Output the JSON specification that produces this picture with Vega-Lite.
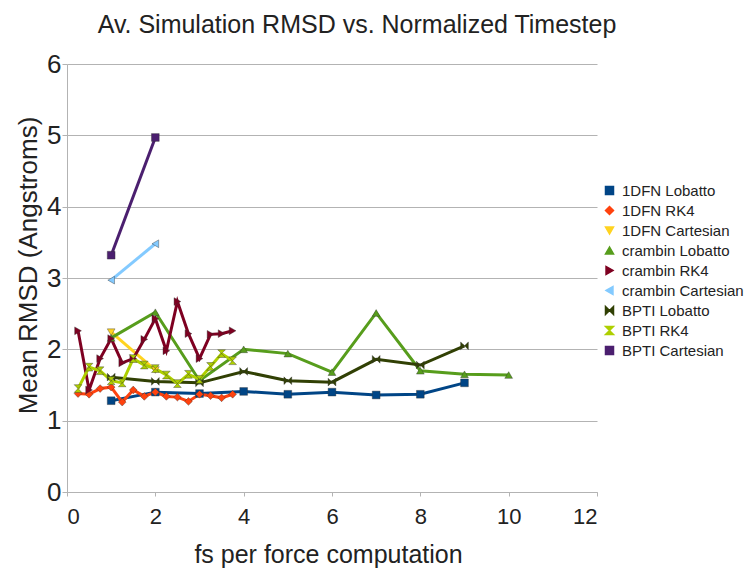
{
  "$schema": "https://vega.github.io/schema/vega-lite/v6.json",
  "width": 530,
  "height": 428,
  "autosize": "none",
  "padding": {"left": 67, "top": 64, "right": 153, "bottom": 80},
  "background": "white",
  "config": {
    "font": "Liberation Sans",
    "view": {"stroke": null}
  },
  "title": {
    "text": "Av. Simulation RMSD vs. Normalized Timestep",
    "fontSize": 25,
    "fontWeight": "normal",
    "color": "#222222",
    "anchor": "middle",
    "baseline": "alphabetic",
    "dx": 25,
    "dy": 15,
    "offset": 8
  },
  "data": {
    "values": [
      {"series": "1DFN Lobatto", "x": 1, "y": 1.28},
      {"series": "1DFN Lobatto", "x": 2, "y": 1.40},
      {"series": "1DFN Lobatto", "x": 3, "y": 1.38},
      {"series": "1DFN Lobatto", "x": 4, "y": 1.41},
      {"series": "1DFN Lobatto", "x": 5, "y": 1.37},
      {"series": "1DFN Lobatto", "x": 6, "y": 1.40},
      {"series": "1DFN Lobatto", "x": 7, "y": 1.36},
      {"series": "1DFN Lobatto", "x": 8, "y": 1.37},
      {"series": "1DFN Lobatto", "x": 9, "y": 1.53},
      {"series": "1DFN RK4", "x": 0.25, "y": 1.38},
      {"series": "1DFN RK4", "x": 0.5, "y": 1.37},
      {"series": "1DFN RK4", "x": 0.75, "y": 1.45},
      {"series": "1DFN RK4", "x": 1, "y": 1.47},
      {"series": "1DFN RK4", "x": 1.25, "y": 1.26},
      {"series": "1DFN RK4", "x": 1.5, "y": 1.43},
      {"series": "1DFN RK4", "x": 1.75, "y": 1.34},
      {"series": "1DFN RK4", "x": 2, "y": 1.40},
      {"series": "1DFN RK4", "x": 2.25, "y": 1.34},
      {"series": "1DFN RK4", "x": 2.5, "y": 1.33},
      {"series": "1DFN RK4", "x": 2.75, "y": 1.27},
      {"series": "1DFN RK4", "x": 3, "y": 1.37},
      {"series": "1DFN RK4", "x": 3.25, "y": 1.35},
      {"series": "1DFN RK4", "x": 3.5, "y": 1.32},
      {"series": "1DFN RK4", "x": 3.75, "y": 1.37},
      {"series": "1DFN Cartesian", "x": 1, "y": 2.24},
      {"series": "1DFN Cartesian", "x": 2, "y": 1.71},
      {"series": "crambin Lobatto", "x": 1, "y": 2.16},
      {"series": "crambin Lobatto", "x": 2, "y": 2.52},
      {"series": "crambin Lobatto", "x": 3, "y": 1.56},
      {"series": "crambin Lobatto", "x": 4, "y": 2.0},
      {"series": "crambin Lobatto", "x": 5, "y": 1.94},
      {"series": "crambin Lobatto", "x": 6, "y": 1.68},
      {"series": "crambin Lobatto", "x": 7, "y": 2.51},
      {"series": "crambin Lobatto", "x": 8, "y": 1.70},
      {"series": "crambin Lobatto", "x": 9, "y": 1.65},
      {"series": "crambin Lobatto", "x": 10, "y": 1.64},
      {"series": "crambin RK4", "x": 0.25, "y": 2.26},
      {"series": "crambin RK4", "x": 0.5, "y": 1.43},
      {"series": "crambin RK4", "x": 0.75, "y": 1.87},
      {"series": "crambin RK4", "x": 1, "y": 2.15},
      {"series": "crambin RK4", "x": 1.25, "y": 1.81},
      {"series": "crambin RK4", "x": 1.5, "y": 1.87},
      {"series": "crambin RK4", "x": 1.75, "y": 2.14},
      {"series": "crambin RK4", "x": 2, "y": 2.43},
      {"series": "crambin RK4", "x": 2.25, "y": 1.98},
      {"series": "crambin RK4", "x": 2.5, "y": 2.67},
      {"series": "crambin RK4", "x": 2.75, "y": 2.22},
      {"series": "crambin RK4", "x": 3, "y": 1.87},
      {"series": "crambin RK4", "x": 3.25, "y": 2.21},
      {"series": "crambin RK4", "x": 3.5, "y": 2.22},
      {"series": "crambin RK4", "x": 3.75, "y": 2.26},
      {"series": "crambin Cartesian", "x": 1, "y": 2.97},
      {"series": "crambin Cartesian", "x": 2, "y": 3.48},
      {"series": "BPTI Lobatto", "x": 1, "y": 1.61},
      {"series": "BPTI Lobatto", "x": 2, "y": 1.55},
      {"series": "BPTI Lobatto", "x": 3, "y": 1.53},
      {"series": "BPTI Lobatto", "x": 4, "y": 1.69},
      {"series": "BPTI Lobatto", "x": 5, "y": 1.56},
      {"series": "BPTI Lobatto", "x": 6, "y": 1.54},
      {"series": "BPTI Lobatto", "x": 7, "y": 1.86},
      {"series": "BPTI Lobatto", "x": 8, "y": 1.78},
      {"series": "BPTI Lobatto", "x": 9, "y": 2.05},
      {"series": "BPTI RK4", "x": 0.25, "y": 1.45},
      {"series": "BPTI RK4", "x": 0.5, "y": 1.75},
      {"series": "BPTI RK4", "x": 0.75, "y": 1.70},
      {"series": "BPTI RK4", "x": 1, "y": 1.56},
      {"series": "BPTI RK4", "x": 1.25, "y": 1.53},
      {"series": "BPTI RK4", "x": 1.5, "y": 1.87},
      {"series": "BPTI RK4", "x": 1.75, "y": 1.78},
      {"series": "BPTI RK4", "x": 2, "y": 1.73},
      {"series": "BPTI RK4", "x": 2.25, "y": 1.64},
      {"series": "BPTI RK4", "x": 2.5, "y": 1.52},
      {"series": "BPTI RK4", "x": 2.75, "y": 1.65},
      {"series": "BPTI RK4", "x": 3, "y": 1.58},
      {"series": "BPTI RK4", "x": 3.25, "y": 1.76},
      {"series": "BPTI RK4", "x": 3.5, "y": 1.94},
      {"series": "BPTI RK4", "x": 3.75, "y": 1.84},
      {"series": "BPTI Cartesian", "x": 1, "y": 3.32},
      {"series": "BPTI Cartesian", "x": 2, "y": 4.97}
    ]
  },
  "encoding": {
    "x": {
      "field": "x", "type": "quantitative",
      "scale": {"domain": [0, 12], "nice": false},
      "axis": {
        "title": "fs per force computation",
        "titleFontSize": 25, "titleFontWeight": "normal", "titleColor": "#222222",
        "titleBaseline": "alphabetic", "titleX": 261, "titleY": 70,
        "values": [0, 2, 4, 6, 8, 10, 12],
        "labelFontSize": 22, "labelColor": "#222222", "labelPadding": 10,
        "grid": false, "domainColor": "#b3b3b3", "tickColor": "#b3b3b3", "tickSize": 4
      }
    },
    "y": {
      "field": "y", "type": "quantitative",
      "scale": {"domain": [0, 6], "nice": false},
      "axis": {
        "title": "Mean RMSD (Angstroms)",
        "titleFontSize": 26, "titleFontWeight": "normal", "titleColor": "#222222",
        "titleBaseline": "alphabetic", "titleX": -31, "titleY": 201, "titleAlign": "center", "titleAngle": -90,
        "values": [0, 1, 2, 3, 4, 5, 6],
        "labelFontSize": 26, "labelColor": "#222222", "labelPadding": 1,
        "grid": true, "gridColor": "#b3b3b3", "domainColor": "#b3b3b3", "tickColor": "#b3b3b3", "tickSize": 5
      }
    },
    "color": {
      "field": "series", "type": "nominal",
      "scale": {
        "domain": ["1DFN Lobatto", "1DFN RK4", "1DFN Cartesian", "crambin Lobatto", "crambin RK4", "crambin Cartesian", "BPTI Lobatto", "BPTI RK4", "BPTI Cartesian"],
        "range": ["#004586", "#ff420e", "#ffd320", "#579d1c", "#7e0021", "#83caff", "#314004", "#aecf00", "#4b1f6f"]
      },
      "legend": {
        "title": null,
        "orient": "none",
        "legendX": 535,
        "legendY": 119,
        "labelFontSize": 15,
        "labelColor": "#222222",
        "rowPadding": 4,
        "symbolSize": 64,
        "labelOffset": 5
      }
    }
  },
  "layer": [
    {
      "mark": {"type": "line", "strokeWidth": 3},
      "encoding": {"detail": {"field": "series"}}
    },
    {
      "mark": {"type": "point", "filled": true, "opacity": 1, "size": 60, "stroke": "#333333", "strokeWidth": 0.4},
      "encoding": {
        "shape": {
          "field": "series", "type": "nominal",
          "scale": {
            "domain": ["1DFN Lobatto", "1DFN RK4", "1DFN Cartesian", "crambin Lobatto", "crambin RK4", "crambin Cartesian", "BPTI Lobatto", "BPTI RK4", "BPTI Cartesian"],
            "range": [
              "square",
              "diamond",
              "triangle-down",
              "triangle-up",
              "triangle-right",
              "triangle-left",
              "M-1,-1L0,0L-1,1Z M1,-1L0,0L1,1Z",
              "M-1,-1L1,-1L0,0Z M-1,1L1,1L0,0Z",
              "square"
            ]
          },
          "legend": null
        }
      }
    }
  ]
}
